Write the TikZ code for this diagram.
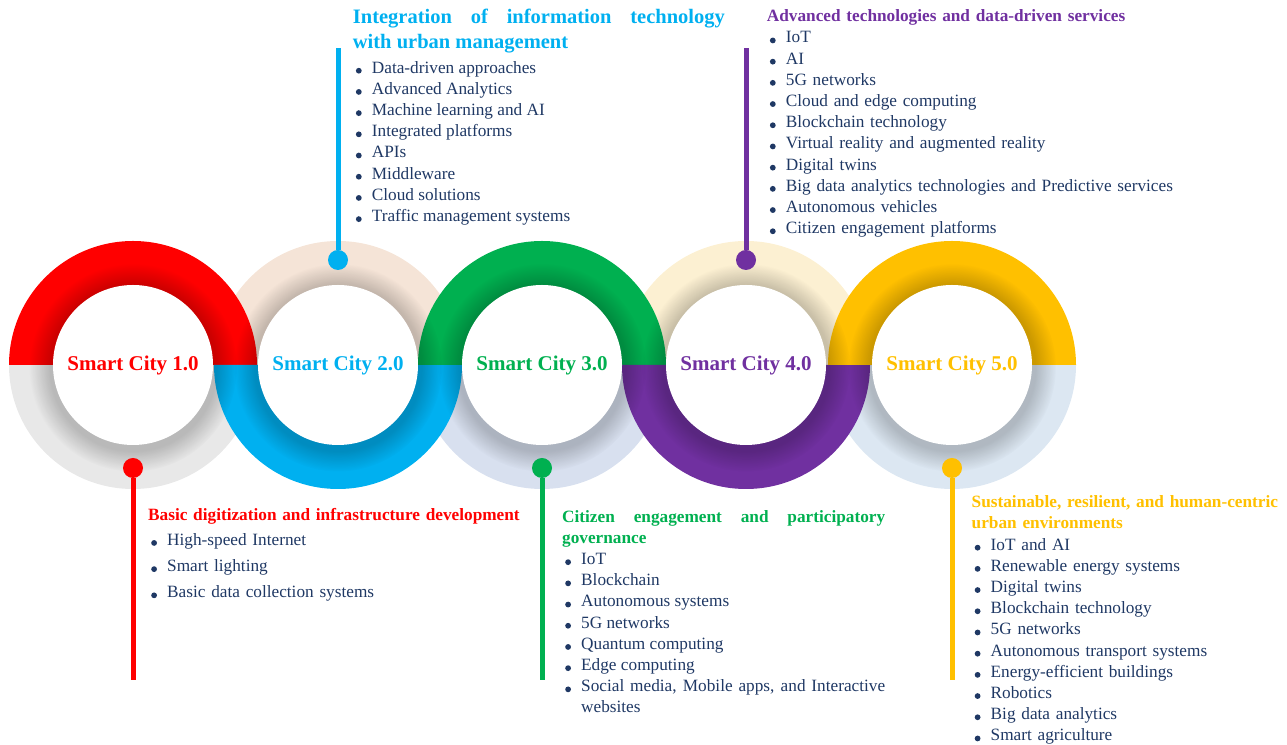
\documentclass[tikz,border=0pt]{standalone}
\usepackage{fontspec}
\setmainfont{Liberation Serif}
\usetikzlibrary{positioning,shadows,fadings}
\definecolor{scred}{HTML}{FF0000}
\definecolor{scblue}{HTML}{00B0F0}
\definecolor{scgreen}{HTML}{00B050}
\definecolor{scpurple}{HTML}{7030A0}
\definecolor{scgold}{HTML}{FFC000}
\definecolor{scnavy}{HTML}{1F3864}
\definecolor{lgray}{HTML}{E8E8E8}
\definecolor{lpeach}{HTML}{F5E4D7}
\definecolor{llav}{HTML}{D8E0EF}
\definecolor{lcream}{HTML}{FCF0D2}
\definecolor{lsky}{HTML}{DCE7F2}
\hyphenpenalty=10000
\newcommand{\dotbul}{\tikz[baseline]\fill[scnavy] (0,2.4bp) circle[radius=2.9bp];}
\newenvironment{blist}[2]{\begin{list}{\hbox to 19bp{\hspace{3bp}\dotbul\hfil}}{%
    \setlength{\leftmargin}{19bp}\setlength{\labelwidth}{19bp}\setlength{\labelsep}{0bp}%
    \setlength{\itemindent}{0bp}\setlength{\itemsep}{#1}\setlength{\parsep}{0bp}%
    \setlength{\topsep}{#2}\setlength{\partopsep}{0bp}}\color{scnavy}}{\end{list}}

\begin{document}
\begin{tikzpicture}[x=1bp,y=1bp,
        core/.style={circle,fill=white,minimum size=160bp,inner sep=0pt,
            font=\fontsize{21bp}{24bp}\selectfont\bfseries,
            circular drop shadow={shadow xshift=0bp,shadow yshift=-2bp,shadow scale=1.3,
                opacity=.2,fill=black,path fading=circle with fuzzy edge 20 percent}},
        knob/.style={circle,fill=#1,minimum size=20bp,inner sep=0pt},
        stem/.style={line width=5bp,draw=#1},
        blk/.style={anchor=north west,inner sep=0pt,text width=#1,
            font=\fontsize{17.25bp}{21.2bp}\selectfont}]
    \useasboundingbox (0,0) rectangle (1287,745);
    \foreach \cx/\col/\a in {133/lgray/180,338/lpeach/0,542/llav/180,746/lcream/0,952/lsky/180}
        \fill[\col] (\cx,380) ++(\a:124) arc[start angle=\a,delta angle=180,radius=124] -- cycle;
    \foreach \cx/\col/\a in {133/scred/0,338/scblue/180,542/scgreen/0,746/scpurple/180,952/scgold/0}
        \fill[\col] (\cx,380) ++(\a:124) arc[start angle=\a,delta angle=180,radius=124] -- cycle;
    \node[core,text=scred] (c1) at (133,380) {Smart City 1.0};
    \node[core,text=scblue] (c2) at (338,380) {Smart City 2.0};
    \node[core,text=scgreen] (c3) at (542,380) {Smart City 3.0};
    \node[core,text=scpurple] (c4) at (746,380) {Smart City 4.0};
    \node[core,text=scgold] (c5) at (952,380) {Smart City 5.0};
    \coordinate (e1) at (133,65);
    \coordinate (e2) at (338,697);
    \coordinate (e3) at (542,65);
    \coordinate (e4) at (746,697);
    \coordinate (e5) at (952,65);
    \node[knob=scred] (p1) at (133,277) {};
    \node[knob=scblue] (p2) at (338,485) {};
    \node[knob=scgreen] (p3) at (542,277) {};
    \node[knob=scpurple] (p4) at (746,485) {};
    \node[knob=scgold] (p5) at (952,277) {};
    \draw[stem=scred] (p1) -- (e1);
    \draw[stem=scblue] (p2) -- (e2);
    \draw[stem=scgreen] (p3) -- (e3);
    \draw[stem=scpurple] (p4) -- (e4);
    \draw[stem=scgold] (p5) -- (e5);
    \node[blk=390bp,align=left] (t1) at (148,237) {%
        {\bfseries\color{scred}Basic digitization and infrastructure development\par}
        \begin{blist}{5bp}{3.8bp}
        \item High-speed Internet
        \item Smart lighting
        \item Basic data collection systems
        \end{blist}};
    \node[blk=372bp,align=justify] (t2) at (352.7,736) {%
        {\fontsize{20.5bp}{24.5bp}\selectfont\bfseries\color{scblue}Integration of information technology\linebreak with urban management\par}
        \begin{blist}{0bp}{3.8bp}
        \item Data-driven approaches
        \item Advanced Analytics
        \item Machine learning and AI
        \item Integrated platforms
        \item APIs
        \item Middleware
        \item Cloud solutions
        \item Traffic management systems
        \end{blist}};
    \node[blk=323bp,align=justify] (t3) at (562,235) {%
        {\bfseries\color{scgreen}Citizen engagement and participatory governance\par}
        \begin{blist}{0bp}{0bp}
        \item IoT
        \item Blockchain
        \item Autonomous systems
        \item 5G networks
        \item Quantum computing
        \item Edge computing
        \item Social media, Mobile apps, and Interactive websites
        \end{blist}};
    \node[blk=420bp,align=left] (t4) at (766.7,735.5) {%
        {\bfseries\color{scpurple}Advanced technologies and data-driven services\par}
        \begin{blist}{0bp}{0bp}
        \item IoT
        \item AI
        \item 5G networks
        \item Cloud and edge computing
        \item Blockchain technology
        \item Virtual reality and augmented reality
        \item Digital twins
        \item Big data analytics technologies and Predictive services
        \item Autonomous vehicles
        \item Citizen engagement platforms
        \end{blist}};
    \node[blk=316bp,align=left] (t5) at (971.5,249.5) {%
        {\bfseries\color{scgold}Sustainable, resilient, and human-centric urban environments\par}
        \begin{blist}{0bp}{0bp}
        \item IoT and AI
        \item Renewable energy systems
        \item Digital twins
        \item Blockchain technology
        \item 5G networks
        \item Autonomous transport systems
        \item Energy-efficient buildings
        \item Robotics
        \item Big data analytics
        \item Smart agriculture
        \end{blist}};
\end{tikzpicture}
\end{document}
